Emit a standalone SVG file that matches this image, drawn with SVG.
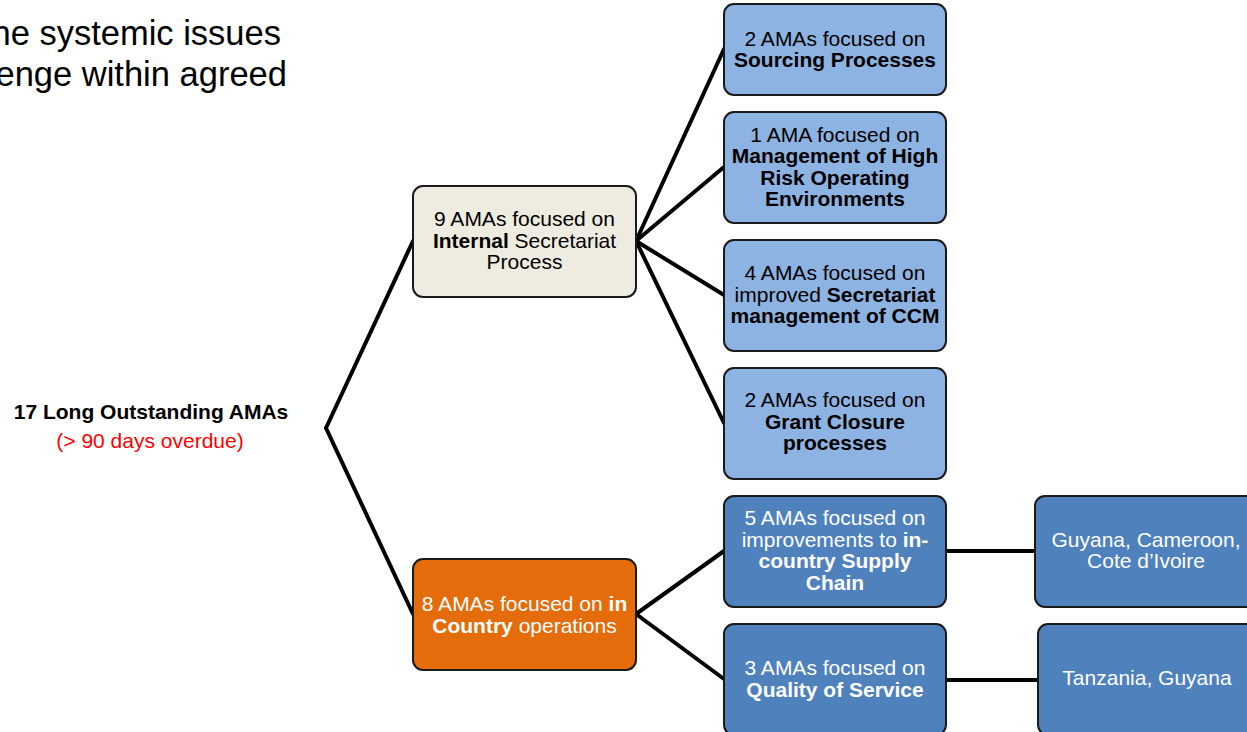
<svg xmlns="http://www.w3.org/2000/svg" width="1247" height="732" viewBox="0 0 1247 732">
<style>
text{font-family:"Liberation Sans",Arial,sans-serif;font-size:21px;text-anchor:middle}
.b{font-weight:bold}
.w{fill:#ffffff}
.h{font-size:34.5px;text-anchor:end}
.box{stroke:#1a1a1a;stroke-width:2}
.beige{fill:#EEECE1}
.orange{fill:#E46C0A}
.lb{fill:#8DB3E2}
.db{fill:#4F81BD}
.conn line{stroke:#000;stroke-width:4;stroke-linecap:round}
</style>
<rect width="1247" height="732" fill="#ffffff"/>
<g id="heading">
<text x="281" y="45" class="h">the systemic issues</text>
<text x="287" y="86" class="h">challenge within agreed</text>
</g>
<g id="connectors" class="conn">
<line x1="326" y1="428" x2="413" y2="241"/>
<line x1="326" y1="428" x2="413" y2="614"/>
<line x1="636" y1="241" x2="724" y2="49"/>
<line x1="636" y1="241" x2="724" y2="167"/>
<line x1="636" y1="241" x2="724" y2="295"/>
<line x1="636" y1="241" x2="724" y2="423"/>
<line x1="636" y1="614" x2="724" y2="551"/>
<line x1="636" y1="614" x2="724" y2="679"/>
<line x1="946" y1="551" x2="1035" y2="551"/>
<line x1="946" y1="680" x2="1038" y2="680"/>
</g>
<g id="root">
<text x="151" y="419" class="b">17 Long Outstanding AMAs</text>
<text x="150" y="448" style="fill:#FF0000">(&gt; 90 days overdue)</text>
</g>
<g id="internal">
<rect class="box beige" x="413" y="186" width="223" height="111" rx="10"/>
<text x="524.5" y="226">9 AMAs focused on</text>
<text x="524.5" y="247.5"><tspan class="b">Internal</tspan> Secretariat</text>
<text x="524.5" y="269">Process</text>
</g>
<g id="incountry">
<rect class="box orange" x="413" y="559" width="223" height="111" rx="10"/>
<text x="524.5" y="611" class="w">8 AMAs focused on <tspan class="b">in</tspan></text>
<text x="524.5" y="632.5" class="w"><tspan class="b">Country</tspan> operations</text>
</g>
<g id="sourcing">
<rect class="box lb" x="724" y="4" width="222" height="91" rx="10"/>
<text x="835" y="46">2 AMAs focused on</text>
<text x="835" y="67" class="b">Sourcing Processes</text>
</g>
<g id="highrisk">
<rect class="box lb" x="724" y="112" width="222" height="111" rx="10"/>
<text x="835" y="141.5">1 AMA focused on</text>
<text x="835" y="163" class="b">Management of High</text>
<text x="835" y="184.5" class="b">Risk Operating</text>
<text x="835" y="206" class="b">Environments</text>
</g>
<g id="ccm">
<rect class="box lb" x="724" y="240" width="222" height="111" rx="10"/>
<text x="835" y="280">4 AMAs focused on</text>
<text x="835" y="301.5">improved <tspan class="b">Secretariat</tspan></text>
<text x="835" y="323" class="b">management of CCM</text>
</g>
<g id="closure">
<rect class="box lb" x="724" y="368" width="222" height="111" rx="10"/>
<text x="835" y="407">2 AMAs focused on</text>
<text x="835" y="428.5" class="b">Grant Closure</text>
<text x="835" y="450" class="b">processes</text>
</g>
<g id="supply">
<rect class="box db" x="724" y="496" width="222" height="111" rx="10"/>
<text x="835" y="525" class="w">5 AMAs focused on</text>
<text x="835" y="546.5" class="w">improvements to <tspan class="b">in-</tspan></text>
<text x="835" y="568" class="w b">country Supply</text>
<text x="835" y="589.5" class="w b">Chain</text>
</g>
<g id="quality">
<rect class="box db" x="724" y="624" width="222" height="111" rx="10"/>
<text x="835" y="675" class="w">3 AMAs focused on</text>
<text x="835" y="696.5" class="w b">Quality of Service</text>
</g>
<g id="countries1">
<rect class="box db" x="1035" y="496" width="222" height="111" rx="10"/>
<text x="1146" y="546.5" class="w">Guyana, Cameroon,</text>
<text x="1146" y="568" class="w">Cote d’Ivoire</text>
</g>
<g id="countries2">
<rect class="box db" x="1038" y="624" width="222" height="111" rx="10"/>
<text x="1147" y="685" class="w">Tanzania, Guyana</text>
</g>
</svg>
